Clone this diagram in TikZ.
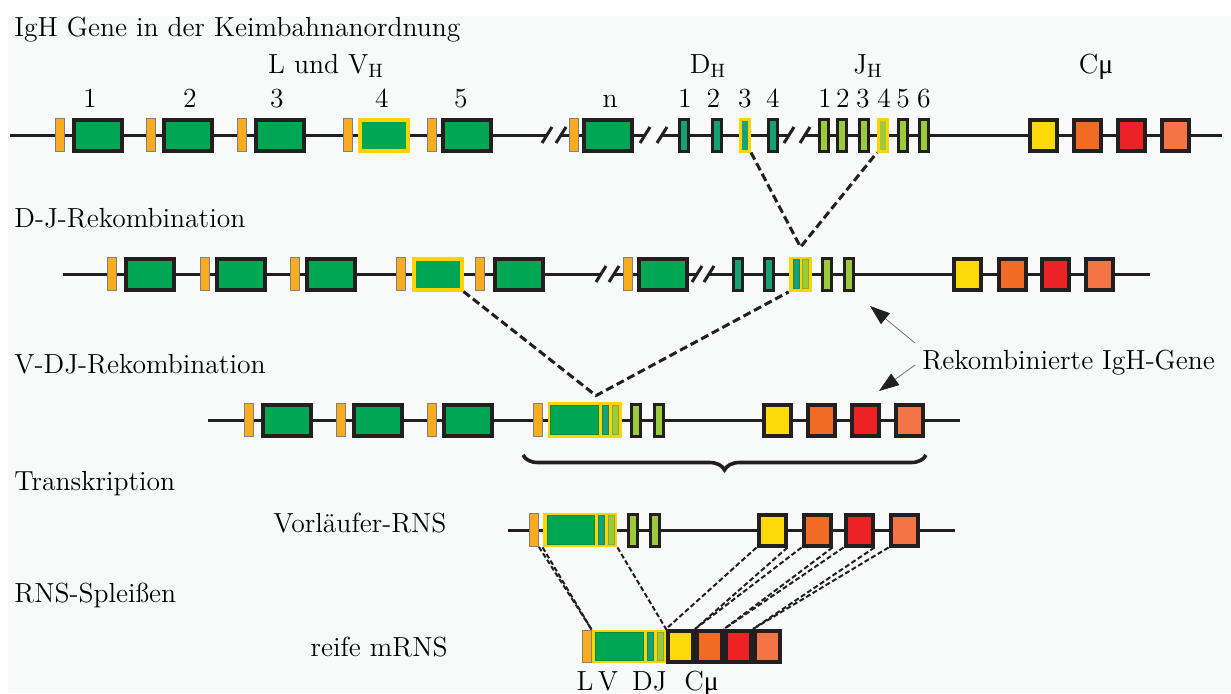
\documentclass[tikz,border=0pt]{standalone}
\usepackage{fontspec}
\newfontfamily\grk{Liberation Serif}
\usepackage{tikz}
\usetikzlibrary{arrows.meta,positioning,decorations.pathreplacing}
\definecolor{ink}{HTML}{231F20}
\definecolor{bgc}{HTML}{F8FAFA}
\definecolor{vgreen}{HTML}{00A651}
\definecolor{lorange}{HTML}{F9AC1E}
\definecolor{dteal}{HTML}{16A276}
\definecolor{jlime}{HTML}{9BCB3C}
\definecolor{hlyel}{HTML}{FFD400}
\definecolor{cyel}{HTML}{FCDA08}
\definecolor{corg}{HTML}{F26B25}
\definecolor{cred}{HTML}{ED2224}
\definecolor{clor}{HTML}{F37445}
\newcommand{\lbl}{\fontsize{13.8}{16}\selectfont}
\tikzstyle{leader}=[rectangle,draw=black!50,line width=0.4pt,fill=lorange,minimum width=4.5pt,minimum height=16.5pt,inner sep=0pt]
\tikzstyle{vseg}=[rectangle,draw=ink,line width=2pt,fill=vgreen,minimum width=24pt,minimum height=15.5pt,inner sep=0pt]
\tikzstyle{vhl}=[vseg,draw=hlyel]
\tikzstyle{dseg}=[rectangle,draw=ink,line width=1.5pt,fill=dteal,minimum width=4.5pt,minimum height=16pt,inner sep=0pt]
\tikzstyle{dhl}=[dseg,draw=hlyel]
\tikzstyle{jseg}=[dseg,fill=jlime]
\tikzstyle{jhl}=[jseg,draw=hlyel]
\tikzstyle{cseg}=[rectangle,draw=ink,line width=2pt,minimum width=13.5pt,minimum height=15.5pt,inner sep=0pt]
\tikzstyle{hlbox}=[rectangle,fill=hlyel,minimum width=37pt,minimum height=17.5pt,inner sep=0pt]
\tikzstyle{vstrip}=[rectangle,fill=vgreen,draw=vgreen!85!black,line width=0.3pt,minimum width=24pt,minimum height=14.5pt,inner sep=0pt]
\tikzstyle{dstrip}=[rectangle,fill=dteal,draw=dteal!85!black,line width=0.3pt,minimum width=3pt,minimum height=14.5pt,inner sep=0pt]
\tikzstyle{jstrip}=[dstrip,fill=jlime,draw=jlime!85!black]
\tikzstyle{txt}=[font=\lbl,inner sep=0pt]
\tikzstyle{backbone}=[draw=ink,line width=1.5pt]
\tikzstyle{brk}=[draw=ink,line width=1.5pt]
\tikzstyle{cut}=[draw=ink,line width=1.5pt,dash pattern=on 4pt off 2pt]
\tikzstyle{splice}=[draw=ink,line width=1pt,dash pattern=on 2.5pt off 1.3pt]
\tikzstyle{ptr}=[draw=black!55,line width=0.4pt,-{Triangle[length=10pt,width=7pt,color=ink]}]

\begin{document}
\begin{tikzpicture}[x=0.5pt,y=-0.5pt]
  \useasboundingbox (0,0) rectangle (1231,693);
  \fill[white] (0,0) rectangle (1231,693);
  \fill[bgc] (8,16) rectangle (1231,693);

  % Keimbahn
  \node[txt,anchor=base west] (t1) at (14,36) {IgH Gene in der Keimbahnanordnung};
  \draw[backbone] (10,135) -- (547,135) (561,135) -- (645,135) (662,135) -- (789,135) (805,135) -- (1222,135);
  \foreach \x in {547,561,645,662,789,805}
    \draw[brk] (\x-5,143) -- (\x+5,127);
  \foreach \i/\lx/\vx in {1/59.5/98,2/150.5/187.5,3/242/279.5,5/431.5/467,n/574/608}
  {
    \node[leader] (la\i) at (\lx,135) {};
    \node[vseg] (va\i) at (\vx,135) {};
  }
  \node[leader] (la4) at (348,135) {};
  \node[vhl] (va4) at (383.5,135) {};
  \node[dseg] (d1) at (684,135) {};
  \node[dseg] (d2) at (717,135) {};
  \node[dhl] (d3) at (745,135) {};
  \node[dseg] (d4) at (773,135) {};
  \foreach \i/\x in {1/823.5,2/842,3/863.5,5/903,6/924}
    \node[jseg] (j\i) at (\x,135) {};
  \node[jhl] (j4) at (883,135) {};
  \node[cseg,fill=cyel] (c1y) at (1043.5,135) {};
  \node[cseg,fill=corg] (c1o) at (1087,135) {};
  \node[cseg,fill=cred] (c1r) at (1131,135) {};
  \node[cseg,fill=clor] (c1l) at (1175,135) {};
  % Beschriftung
  \node[txt,anchor=base] (hv) at (326,73) {L und V$_{\mathrm{H}}$};
  \node[txt,anchor=base] (hd) at (708,73) {D$_{\mathrm{H}}$};
  \node[txt,anchor=base] (hj) at (868,73) {J$_{\mathrm{H}}$};
  \node[txt,anchor=base] (hc) at (1096,73) {C{\grk μ}};
  \foreach \t/\x in {1/90,2/190,3/277,4/382,5/461,n/610}
    \node[txt,anchor=base] (nv\t) at (\x,107) {\t};
  \foreach \t/\x in {1/685,2/713.5,3/745,4/773}
    \node[txt,anchor=base] (nd\t) at (\x,107) {\t};
  \foreach \t/\x in {1/825,2/843,3/863,4/884,5/903,6/924}
    \node[txt,anchor=base] (nj\t) at (\x,107) {\t};

  % D-J
  \node[txt,anchor=base west] (t2) at (14,227) {D-J-Rekombination};
  \draw[backbone] (63,274) -- (601,274) (614,274) -- (697,274) (709,274) -- (1150,274);
  \foreach \x in {601,614,697,709}
    \draw[brk] (\x-5,282) -- (\x+5,266);
  \foreach \i/\lx/\vx in {1/112/149.5,2/204.5/240.5,3/294.5/330.5,5/479.5/518.5,n/627.5/662.5}
  {
    \node[leader] (lb\i) at (\lx,274) {};
    \node[vseg] (vb\i) at (\vx,274) {};
  }
  \node[leader] (lb4) at (401,274) {};
  \node[vhl] (vb4) at (437.5,274) {};
  \node[dseg] (d21) at (738,274) {};
  \node[dseg] (d22) at (768.5,274) {};
  \node[hlbox,minimum width=11.5pt] (dj2) at (800.5,274) {};
  \node[dstrip] (dj2d) at (796,274) {};
  \node[jstrip] (dj2j) at (805.5,274) {};
  \node[jseg] (j25) at (827,274) {};
  \node[jseg] (j26) at (849,274) {};
  \node[cseg,fill=cyel] (c2y) at (967.5,274) {};
  \node[cseg,fill=corg] (c2o) at (1012,274) {};
  \node[cseg,fill=cred] (c2r) at (1055,274) {};
  \node[cseg,fill=clor] (c2l) at (1099.5,274) {};
  \coordinate (apA) at ([yshift=4.5pt]dj2.north);
  \draw[cut] (d3.south east) -- (apA) -- (j4.south west);

  % V-DJ
  \node[txt,anchor=base west] (t3) at (14,373) {V-DJ-Rekombination};
  \draw[backbone] (208,420) -- (960,420);
  \foreach \i/\lx/\vx in {1/248.5/286.5,2/340.5/378,3/432/467.5}
  {
    \node[leader] (lc\i) at (\lx,420) {};
    \node[vseg] (vc\i) at (\vx,420) {};
  }
  \node[leader] (lc4) at (538,420) {};
  \node[hlbox,minimum height=18pt] (vdj3) at (585,420) {};
  \node[vstrip] (vdj3v) at (574,420) {};
  \node[dstrip] (vdj3d) at (605,420) {};
  \node[jstrip] (vdj3j) at (615,420) {};
  \node[jseg] (j35) at (636,420) {};
  \node[jseg] (j36) at (659,420) {};
  \node[cseg,fill=cyel] (c3y) at (777.5,420) {};
  \node[cseg,fill=corg] (c3o) at (821.5,420) {};
  \node[cseg,fill=cred] (c3r) at (865.5,420) {};
  \node[cseg,fill=clor] (c3l) at (909.5,420) {};
  \coordinate (apB) at ([xshift=5.5pt,yshift=3pt]vdj3.north);
  \draw[cut] (vb4.south east) -- (apB) -- (dj2.south west);

  % Pfeile
  \node[txt,anchor=base west] (rek) at (922,369) {Rekombinierte IgH-Gene};
  \coordinate (rekA) at (915,343);
  \coordinate (rekB) at (915,365);
  \coordinate (tipA) at (870,306);
  \coordinate (tipB) at (879,391);
  \draw[ptr] (rekA) -- (tipA);
  \draw[ptr] (rekB) -- (tipB);

  % Transkription
  \coordinate (brL) at (523,455);
  \coordinate (brR) at (926,455);
  \draw[ink,line width=1.8pt,decorate,decoration={brace,mirror,amplitude=7.5pt}] (brL) -- (brR);
  \node[txt,anchor=base west] (t4) at (14,490) {Transkription};
  \node[txt,anchor=base west] (pre) at (273,532) {Vorläufer-RNS};
  \draw[backbone] (508,530) -- (955,530);
  \node[leader] (l4) at (534,530) {};
  \node[hlbox,minimum height=17pt] (vdj4) at (580,530) {};
  \node[vstrip,minimum width=23.5pt] (vdj4v) at (570.5,530) {};
  \node[dstrip] (vdj4d) at (601,530) {};
  \node[jstrip] (vdj4j) at (611.5,530) {};
  \node[jseg] (j45) at (632.5,530) {};
  \node[jseg] (j46) at (655,530) {};
  \node[cseg,fill=cyel] (c4y) at (772,530) {};
  \node[cseg,fill=corg] (c4o) at (817,530) {};
  \node[cseg,fill=cred] (c4r) at (859,530) {};
  \node[cseg,fill=clor] (c4l) at (904,530) {};

  % Spleissen
  \node[txt,anchor=base west] (t5) at (14,602) {RNS-Spleißen};
  \node[txt,anchor=base east] (mat) at (448,656) {reife mRNS};
  \node[leader,minimum height=16pt] (l5) at (587,646.5) {};
  \node[hlbox,minimum height=16.5pt] (vdj5) at (629,646.5) {};
  \node[vstrip,minimum height=14pt] (vdj5v) at (619,646.5) {};
  \node[dstrip,minimum height=14pt] (vdj5d) at (650,646.5) {};
  \node[jstrip,minimum height=14pt] (vdj5j) at (660,646.5) {};
  \node[cseg,fill=cyel,minimum width=12.5pt] (c5y) at (680.5,646.5) {};
  \node[cseg,fill=corg,minimum width=12.5pt] (c5o) at (709.5,646.5) {};
  \node[cseg,fill=cred,minimum width=12.5pt] (c5r) at (738.5,646.5) {};
  \node[cseg,fill=clor,minimum width=12.5pt] (c5l) at (767.5,646.5) {};
  \draw[splice] (l4.south east) -- (l5.north east);
  \draw[splice] (vdj4.south west) -- (vdj5.north west);
  \draw[splice] (vdj4.south east) -- (vdj5.north east);
  \foreach \c in {y,o,r}
  {
    \draw[splice] (c4\c.south west) -- (c5\c.north west);
    \draw[splice] (c4\c.south east) -- (c5\c.north east);
  }
  \draw[splice] (c4l.south west) -- (c5l.north west);
  \node[txt,anchor=base] (bl) at (585,690) {L};
  \node[txt,anchor=base] (bv) at (608,690) {V};
  \node[txt,anchor=base] (bdj) at (649.5,690) {DJ};
  \node[txt,anchor=base] (bc) at (701.5,690) {C{\grk μ}};
\end{tikzpicture}
\end{document}
